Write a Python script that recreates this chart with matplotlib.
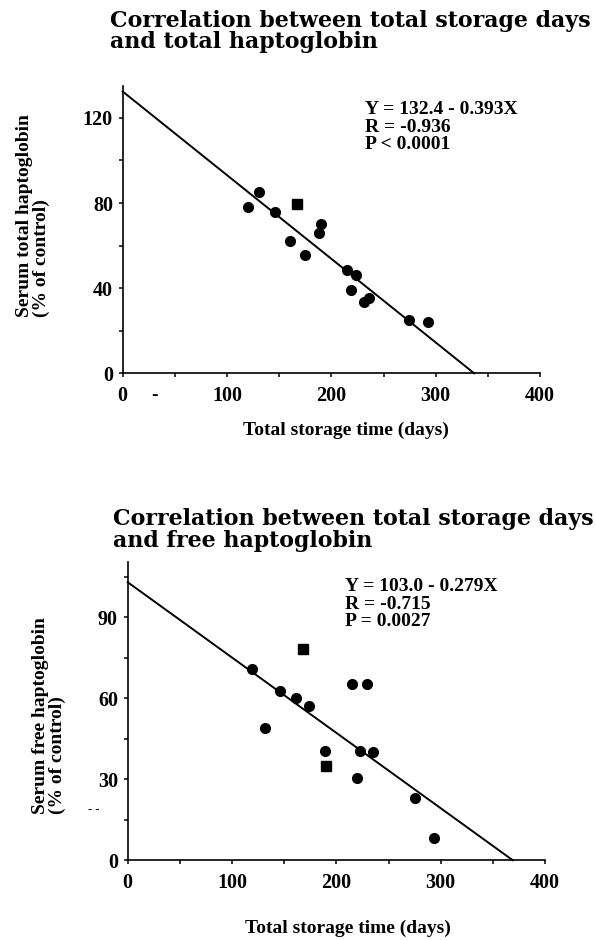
import numpy as np
import matplotlib
matplotlib.use('Agg')
import matplotlib.pyplot as plt
from matplotlib.ticker import MultipleLocator

W, H = 596, 940

# upper panel: total haptoglobin
total_days = [120, 131, 146, 167, 160, 175, 190, 188, 215, 224, 219, 231, 236, 274, 293]
total_hp = [78, 85, 76, 79.5, 62, 55.5, 70, 66, 48.5, 46, 39, 33.5, 35.5, 25, 24]
total_marks = ['o', 'o', 'o', 's', 'o', 'o', 'o', 'o', 'o', 'o', 'o', 'o', 'o', 'o', 'o']
total_fit = (132.4, -0.393)
total_stats = ['Y = 132.4 - 0.393X', 'R = -0.936', 'P < 0.0001']
total_title = ['Correlation between total storage days', 'and total haptoglobin']
total_ylabel = 'Serum total haptoglobin\n(% of control)'
total_yticks = [0, 40, 80, 120]

# lower panel: free haptoglobin
free_days = [119.5, 131.5, 146, 161, 168, 174, 189, 190, 215, 229, 219.5, 223, 235, 275, 294]
free_hp = [70.7, 49, 62.7, 60.3, 78.2, 57, 40.5, 35, 65.3, 65.3, 30.4, 40.5, 40.2, 23.2, 8.4]
free_marks = ['o', 'o', 'o', 'o', 's', 'o', 'o', 's', 'o', 'o', 'o', 'o', 'o', 'o', 'o']
free_fit = (103.0, -0.279)
free_stats = ['Y = 103.0 - 0.279X', 'R = -0.715', 'P = 0.0027']
free_title = ['Correlation between total storage days', 'and free haptoglobin']
free_ylabel = 'Serum free haptoglobin\n(% of control)'
free_yticks = [0, 30, 60, 90]

xlabel = 'Total storage time (days)'
xticks = [0, 100, 200, 300, 400]

SERIF = 'Liberation Serif'
TITLE = 'DejaVu Serif'

fig = plt.figure(figsize=(W / 100, H / 100), dpi=100)


def px(x, y):
    return x / W, 1 - y / H


def panel(rect, ymax, days, vals, marks, fit, stats, yticks, yminor, stat_xy):
    ax = fig.add_axes(rect)
    ax.set_xlim(0, 400)
    ax.set_ylim(0, ymax)
    for s in ['top', 'right']:
        ax.spines[s].set_visible(False)
    for s in ['left', 'bottom']:
        ax.spines[s].set_linewidth(1.2)
    ax.set_xticks(xticks)
    ax.xaxis.set_minor_locator(MultipleLocator(50))
    ax.set_yticks(yticks)
    ax.yaxis.set_minor_locator(MultipleLocator(yminor))
    ax.tick_params(which='both', direction='out', length=3, width=1.1)
    ax.tick_params(axis='x', pad=6)
    ax.tick_params(axis='y', pad=4)
    for lab in ax.get_xticklabels() + ax.get_yticklabels():
        lab.set_fontfamily(SERIF)
        lab.set_fontweight('bold')
        lab.set_fontsize(14.5)

    a, b = fit
    xx = np.array([0, -a / b])
    ax.plot(xx, a + b * xx, color='black', lw=1.4, clip_on=False)

    days = np.array(days)
    vals = np.array(vals)
    marks = np.array(marks)
    for m in ['o', 's']:
        sel = marks == m
        ax.plot(days[sel], vals[sel], ls='none', marker=m, color='black',
                ms=7 if m == 'o' else 6.5, clip_on=False)

    ax.text(stat_xy[0], stat_xy[1], '\n'.join(stats), ha='left', va='top',
            fontfamily=SERIF, fontweight='bold', fontsize=14, linespacing=1.05)
    return ax


ax1 = panel([122.7 / W, 1 - 373.3 / H, 417.3 / W, (373.3 - 86) / H], 135,
            total_days, total_hp, total_marks, total_fit, total_stats,
            total_yticks, 20, (232, 128))
ax2 = panel([127.7 / W, 1 - 860.3 / H, 417.3 / W, (860.3 - 561.7) / H], 110.6,
            free_days, free_hp, free_marks, free_fit, free_stats,
            free_yticks, 15, (208, 104.5))

# titles
for i, line in enumerate(total_title):
    fig.text(*px(110, 27 + 21 * i), line, fontfamily=TITLE, fontweight='bold',
             fontsize=15.9, va='baseline', ha='left')
for i, line in enumerate(free_title):
    fig.text(*px(113, 525 + 22 * i), line, fontfamily=TITLE, fontweight='bold',
             fontsize=15.9, va='baseline', ha='left')

# axis labels
fig.text(*px(346, 430), xlabel, fontfamily=SERIF, fontweight='bold',
         fontsize=14, ha='center', va='center')
fig.text(*px(348, 928), xlabel, fontfamily=SERIF, fontweight='bold',
         fontsize=14, ha='center', va='center')
fig.text(*px(33, 216), total_ylabel, rotation=90, multialignment='left',
         fontfamily=SERIF, fontweight='bold', fontsize=14, ha='center', va='center',
         linespacing=1.0)
fig.text(*px(49, 716), free_ylabel, rotation=90, multialignment='left',
         fontfamily=SERIF, fontweight='bold', fontsize=14, ha='center', va='center',
         linespacing=1.0)

# stray dashes in the scan
fig.text(*px(155, 395), '-', fontfamily=SERIF, fontweight='bold', fontsize=14,
         ha='center', va='center')
fig.text(*px(94, 810), '- -', fontfamily=SERIF, fontsize=9, ha='center', va='center')

fig.savefig('out.png', dpi=100, facecolor='white')
